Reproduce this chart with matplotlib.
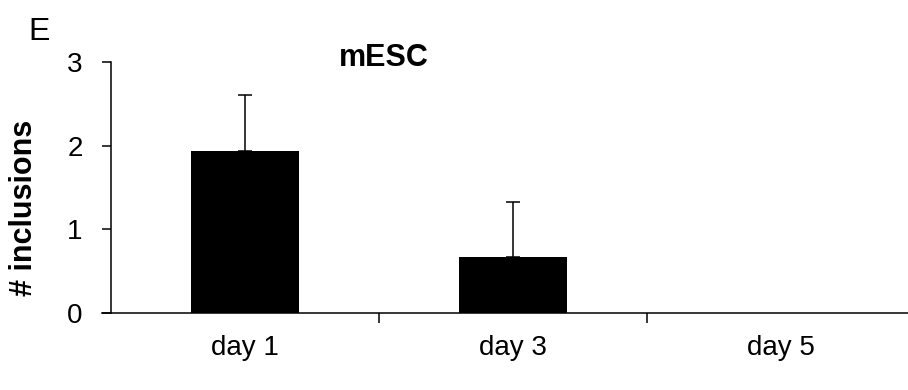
import matplotlib
matplotlib.use("Agg")
import matplotlib.pyplot as plt
import numpy as np

plt.rcParams['font.family'] = ['Liberation Sans', 'DejaVu Sans']

days = ["day 1", "day 3", "day 5"]
inclusions = [1.94, 0.67, 0.0]
err_upper = [0.66, 0.66, 0.0]
y_ticks = [0, 1, 2, 3]

fig = plt.figure(figsize=(9.08, 3.90), dpi=100)
ax = fig.add_axes([111 / 908, 1 - 313 / 390, 797 / 908, 251 / 390])

x = np.arange(len(days))
ax.bar(x, inclusions, width=0.4, color="black", zorder=2)

# only upward error bars, and none where there is nothing to show
has_err = np.array(err_upper) > 0
ax.errorbar(x[has_err], np.array(inclusions)[has_err],
            yerr=[np.zeros(has_err.sum()), np.array(err_upper)[has_err]],
            fmt="none", ecolor="black", elinewidth=1.1, capsize=4.7,
            capthick=1.1, zorder=3)

ax.set_xlim(-0.5, 2.474)
ax.set_ylim(0, 3)
ax.set_yticks(y_ticks)

# category labels sit between the tick marks
ax.set_xticks([0.5, 1.5])
ax.set_xticklabels([])
ax.set_xticks(x, minor=True)
ax.set_xticklabels(days, minor=True)
ax.tick_params(axis="x", which="major", length=7, width=1.1, direction="out")
ax.tick_params(axis="x", which="minor", length=0, pad=16, labelsize=20)
ax.tick_params(axis="y", length=6.5, width=1.1, direction="out", pad=14,
               labelsize=20)

for side in ["top", "right"]:
    ax.spines[side].set_visible(False)
ax.spines["left"].set_linewidth(1.1)
ax.spines["bottom"].set_visible(False)
# baseline runs a little left of the y axis, like the original
ax.plot([-0.5 - 9 / 268, 2.474], [0, 0], color="black", lw=1.1,
        clip_on=False, zorder=4)

ax.set_ylabel("# inclusions", fontsize=22, fontweight="bold")
ax.yaxis.set_label_coords(-0.0905, 0.42)

fig.text(384 / 908, 1 - 66 / 390, "mESC", ha="center", va="baseline",
         fontsize=22, fontweight="bold")
fig.text(28 / 908, 1 - 40 / 390, "E", ha="left", va="baseline", fontsize=23)

fig.savefig("out.png", dpi=100)
